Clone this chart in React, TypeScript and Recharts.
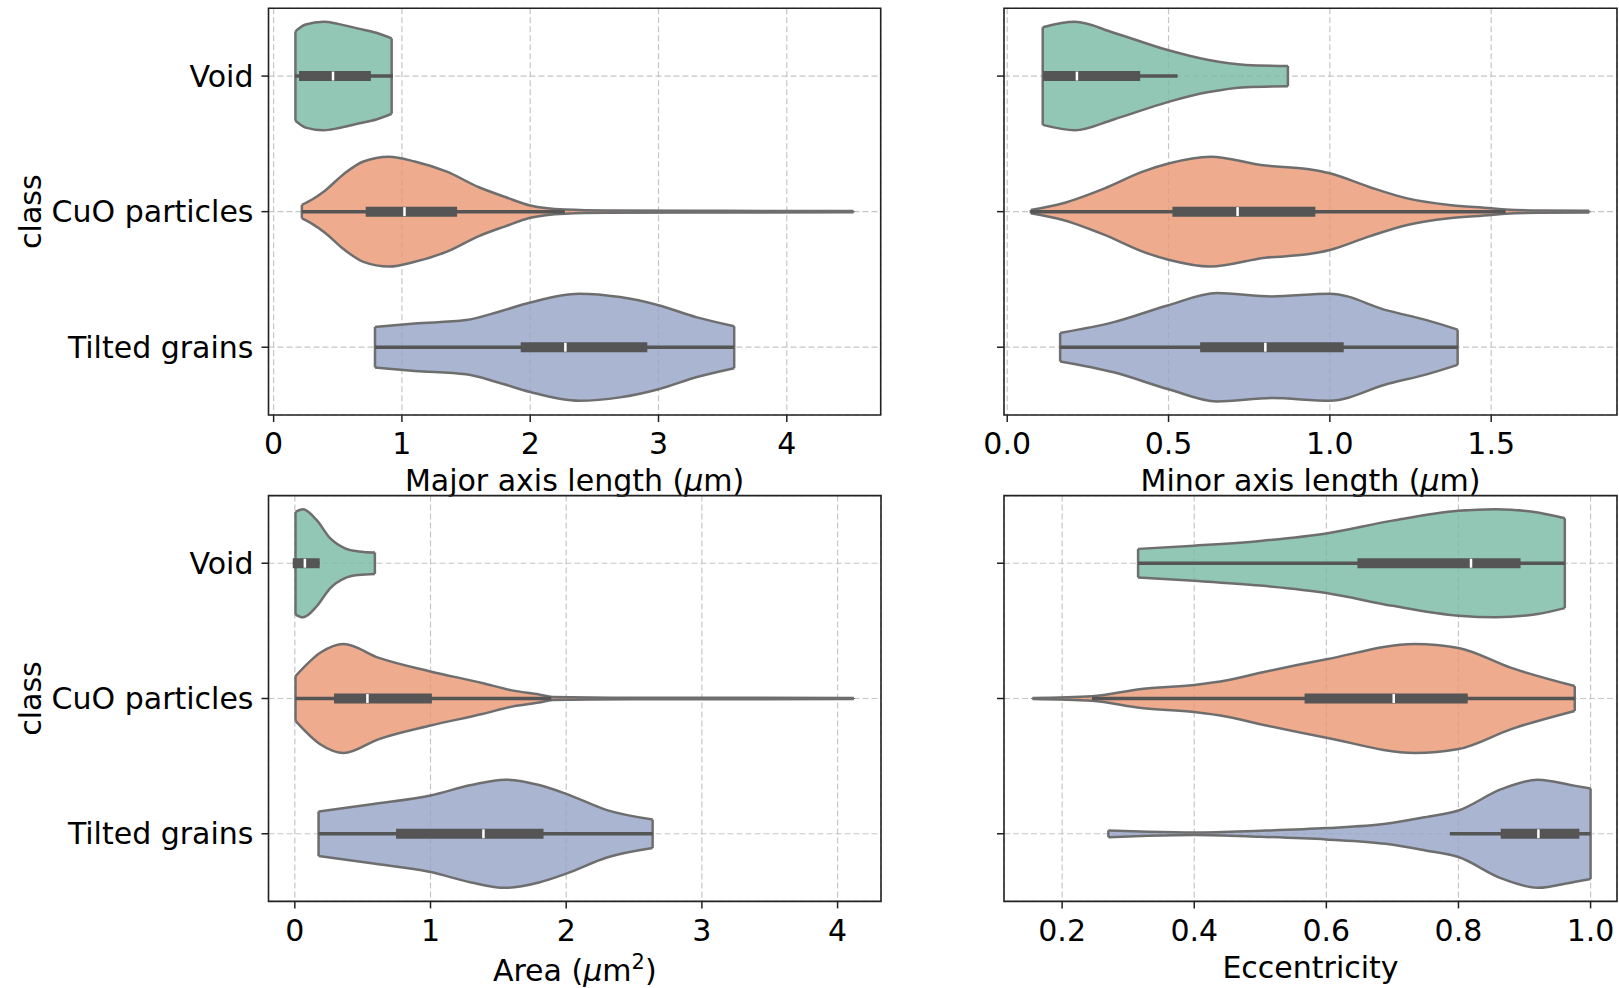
import React from 'react';
import { ComposedChart, Area, XAxis, YAxis, CartesianGrid, ReferenceLine, ReferenceArea, Label } from 'recharts';

const CLASSES = ['Void', 'CuO particles', 'Tilted grains'];
const ROWS = [0, 1, 2];
const FILLS = ['#77b9a2', '#ea9672', '#93a2c5'];
const OUTLINE = '#6e6e6e';
const INNER = '#555555';
const FONT = '"DejaVu Sans", sans-serif';

// x tick values for each panel
const MAJOR_TICKS = [0, 1, 2, 3, 4];
const MINOR_TICKS = [0, 0.5, 1.0, 1.5];
const AREA_TICKS = [0, 1, 2, 3, 4];
const ECC_TICKS = [0.2, 0.4, 0.6, 0.8, 1.0];

// violin outlines: [value, half width in row units]
// box stats: [whisker low, q1, median, q3, whisker high]
const majorVoid = [[0.17, 0.33], [0.25, 0.38], [0.39, 0.4], [0.5, 0.385], [0.66, 0.35], [0.8, 0.32], [0.92, 0.278]];
const majorVoidBox = [0.165, 0.198, 0.463, 0.758, 0.93];
const majorCuo = [[0.22, 0.05], [0.3, 0.09], [0.4, 0.155], [0.55, 0.28], [0.7, 0.37], [0.9, 0.405], [1.1, 0.37], [1.35, 0.295], [1.6, 0.18], [1.8, 0.11], [2.0, 0.045], [2.27, 0.015], [2.6, 0.008], [3.5, 0.006], [4.52, 0.005]];
const majorCuoBox = [0.22, 0.718, 1.02, 1.43, 2.27];
const majorTilted = [[0.79, 0.15], [1.1, 0.175], [1.5, 0.2], [1.75, 0.26], [2.0, 0.33], [2.38, 0.395], [2.7, 0.37], [3.0, 0.31], [3.3, 0.22], [3.59, 0.155]];
const majorTiltedBox = [0.79, 1.926, 2.274, 2.913, 3.59];

const minorVoid = [[0.11, 0.36], [0.21, 0.4], [0.33, 0.32], [0.5, 0.19], [0.62, 0.12], [0.74, 0.082], [0.87, 0.075]];
const minorVoidBox = [0.11, 0.111, 0.216, 0.412, 0.528];
const minorCuo = [[0.073, 0.012], [0.17, 0.06], [0.3, 0.17], [0.42, 0.295], [0.5, 0.355], [0.63, 0.405], [0.8, 0.34], [0.93, 0.315], [1.0, 0.283], [1.12, 0.184], [1.24, 0.098], [1.37, 0.049], [1.5, 0.025], [1.545, 0.015], [1.65, 0.008], [1.804, 0.006]];
const minorCuoBox = [0.073, 0.512, 0.714, 0.955, 1.545];
const minorTilted = [[0.164, 0.105], [0.33, 0.185], [0.5, 0.31], [0.65, 0.4], [0.82, 0.375], [1.0, 0.395], [1.18, 0.27], [1.3, 0.2], [1.396, 0.13]];
const minorTiltedBox = [0.164, 0.598, 0.8, 1.043, 1.396];

const areaVoid = [[0.005, 0.38], [0.06, 0.4], [0.16, 0.32], [0.26, 0.185], [0.37, 0.11], [0.47, 0.087], [0.59, 0.079]];
const areaVoidBox = [-0.015, -0.015, 0.074, 0.183, 0.183];
const areaCuo = [[0.005, 0.165], [0.19, 0.34], [0.36, 0.403], [0.62, 0.3], [1.0, 0.2], [1.38, 0.115], [1.6, 0.06], [1.8, 0.03], [1.9, 0.012], [2.5, 0.006], [4.12, 0.004]];
const areaCuoBox = [0.005, 0.289, 0.535, 1.01, 1.89];
const areaTilted = [[0.175, 0.165], [0.58, 0.22], [1.0, 0.283], [1.3, 0.36], [1.55, 0.4], [1.8, 0.36], [2.0, 0.295], [2.3, 0.175], [2.637, 0.105]];
const areaTiltedBox = [0.175, 0.746, 1.39, 1.833, 2.637];

const eccVoid = [[0.315, 0.106], [0.4, 0.13], [0.5, 0.165], [0.6, 0.22], [0.7, 0.315], [0.8, 0.388], [0.856, 0.4], [0.92, 0.375], [0.961, 0.332]];
const eccVoidBox = [0.315, 0.647, 0.819, 0.894, 0.961];
const eccCuo = [[0.155, 0.004], [0.245, 0.017], [0.32, 0.07], [0.4, 0.1], [0.45, 0.135], [0.5, 0.19], [0.6, 0.29], [0.734, 0.403], [0.8, 0.374], [0.88, 0.226], [0.976, 0.092]];
const eccCuoBox = [0.245, 0.567, 0.702, 0.814, 0.976];
const eccTilted = [[0.27, 0.025], [0.33, 0.015], [0.4, 0.009], [0.5, 0.022], [0.6, 0.042], [0.69, 0.074], [0.75, 0.123], [0.8, 0.172], [0.865, 0.33], [0.92, 0.4], [0.975, 0.356], [1.0, 0.335]];
const eccTiltedBox = [0.787, 0.864, 0.921, 0.983, 1.0];

const PANELS = [
  {
    id: 'major', left: 0, top: 0, width: 900, height: 500,
    plotLeft: 268.5, plotTop: 8.3, plotW: 612.2, plotH: 406.7,
    domain: [-0.04, 4.732], ticks: MAJOR_TICKS, digits: 0, names: true, titleDy: 76,
    title: <>Major axis length (<tspan fontStyle="italic">μ</tspan>m)</>,
    shapes: [majorVoid, majorCuo, majorTilted], boxes: [majorVoidBox, majorCuoBox, majorTiltedBox],
  },
  {
    id: 'minor', left: 920, top: 0, width: 699, height: 500,
    plotLeft: 1004, plotTop: 8.3, plotW: 613, plotH: 406.7,
    domain: [-0.01, 1.89], ticks: MINOR_TICKS, digits: 1, names: false, titleDy: 76,
    title: <>Minor axis length (<tspan fontStyle="italic">μ</tspan>m)</>,
    shapes: [minorVoid, minorCuo, minorTilted], boxes: [minorVoidBox, minorCuoBox, minorTiltedBox],
  },
  {
    id: 'area', left: 0, top: 490, width: 900, height: 498,
    plotLeft: 268.5, plotTop: 495.6, plotW: 612.5, plotH: 405.8,
    domain: [-0.194, 4.32], ticks: AREA_TICKS, digits: 0, names: true, titleDy: 79.5,
    title: <>Area (<tspan fontStyle="italic">μ</tspan>m<tspan dy={-12} fontSize={21}>2</tspan><tspan dy={12}>)</tspan></>,
    shapes: [areaVoid, areaCuo, areaTilted], boxes: [areaVoidBox, areaCuoBox, areaTiltedBox],
  },
  {
    id: 'ecc', left: 920, top: 490, width: 699, height: 498,
    plotLeft: 1004, plotTop: 495.6, plotW: 613, plotH: 405.8,
    domain: [0.112, 1.04], ticks: ECC_TICKS, digits: 1, names: false, titleDy: 76.5,
    title: <>Eccentricity</>,
    shapes: [eccVoid, eccCuo, eccTilted], boxes: [eccVoidBox, eccCuoBox, eccTiltedBox],
  },
];

function violin(shape: number[][], box: number[], row: number, fill: string, key: string) {
  const pts = shape.map(([x, w]) => ({ x, lo: row - w, hi: row + w }));
  const a = pts[0];
  const b = pts[pts.length - 1];
  const [wLo, q1, med, q3, wHi] = box;
  return [
    <Area
      key={key + '-body'}
      data={pts}
      dataKey={(d: any) => [d.lo, d.hi]}
      type="monotone"
      fill={fill}
      fillOpacity={0.8}
      stroke={OUTLINE}
      strokeWidth={2.5}
      dot={false}
      activeDot={false}
      isAnimationActive={false}
    />,
    <ReferenceLine key={key + '-l'} segment={[{ x: a.x, y: a.lo }, { x: a.x, y: a.hi }]} stroke={OUTLINE} strokeWidth={2.5} />,
    <ReferenceLine key={key + '-r'} segment={[{ x: b.x, y: b.lo }, { x: b.x, y: b.hi }]} stroke={OUTLINE} strokeWidth={2.5} />,
    <ReferenceLine key={key + '-wh'} segment={[{ x: wLo, y: row }, { x: wHi, y: row }]} stroke={INNER} strokeWidth={3.5} />,
    <ReferenceLine key={key + '-box'} segment={[{ x: q1, y: row }, { x: q3, y: row }]} stroke={INNER} strokeWidth={10} />,
    <ReferenceLine key={key + '-med'} segment={[{ x: med, y: row - 0.033 }, { x: med, y: row + 0.033 }]} stroke="#ffffff" strokeWidth={2.5} />,
  ];
}

function xTitle(content: React.ReactNode, dy: number) {
  return (props: any) => {
    const vb = props.viewBox || {};
    return (
      <text x={vb.x + vb.width / 2} y={vb.y + dy} textAnchor="middle" fontSize={30} fill="#000" fontFamily={FONT}>
        {content}
      </text>
    );
  };
}

function yTitle(props: any) {
  const vb = props.viewBox || {};
  const x = vb.x + 41.3;
  const y = vb.y + vb.height / 2;
  return (
    <text x={x} y={y} transform={`rotate(-90, ${x}, ${y})`} textAnchor="middle" fontSize={30} fill="#000" fontFamily={FONT}>
      class
    </text>
  );
}

function Panel({ p }: { p: any }) {
  const mTop = p.plotTop - p.top;
  const yW = p.plotLeft - p.left;
  const mRight = p.left + p.width - (p.plotLeft + p.plotW);
  const xH = p.height - mTop - p.plotH;
  return (
    <div style={{ position: 'absolute', left: p.left, top: p.top }}>
      <ComposedChart width={p.width} height={p.height} margin={{ top: mTop, right: mRight, bottom: 0, left: 0 }}>
        <CartesianGrid stroke="#c6c6c6" strokeDasharray="6 3" strokeWidth={1.2} />
        <XAxis
          type="number"
          dataKey="x"
          domain={p.domain}
          ticks={p.ticks}
          interval={0}
          allowDataOverflow
          height={xH}
          axisLine={false}
          tickSize={7}
          tickMargin={11}
          tickLine={{ stroke: '#222', strokeWidth: 1.5 }}
          tick={{ fontSize: 30, fill: '#000', fontFamily: FONT }}
          tickFormatter={(v: number) => v.toFixed(p.digits)}
        >
          <Label content={xTitle(p.title, p.titleDy)} />
        </XAxis>
        <YAxis
          type="number"
          domain={[-0.5, 2.5]}
          ticks={ROWS}
          interval={0}
          reversed
          allowDataOverflow
          width={yW}
          axisLine={false}
          tickSize={7}
          tickMargin={8}
          tickLine={{ stroke: '#222', strokeWidth: 1.5 }}
          tick={{ fontSize: 30, fill: '#000', fontFamily: FONT }}
          tickFormatter={(v: number) => (p.names ? CLASSES[v] : '')}
        >
          {p.names && <Label content={yTitle} />}
        </YAxis>
        {p.shapes.flatMap((s: number[][], i: number) => violin(s, p.boxes[i], i, FILLS[i], `${p.id}-${i}`))}
        <ReferenceArea
          x1={p.domain[0]}
          x2={p.domain[1]}
          y1={-0.5}
          y2={2.5}
          fill="none"
          fillOpacity={0}
          stroke="#222"
          strokeWidth={1.6}
          ifOverflow="visible"
        />
      </ComposedChart>
    </div>
  );
}

export default function App() {
  return (
    <div style={{ position: 'absolute', left: 0, top: 0, width: 1619, height: 988, background: '#fff', fontFamily: FONT }}>
      {PANELS.map((p) => (
        <Panel key={p.id} p={p} />
      ))}
    </div>
  );
}
